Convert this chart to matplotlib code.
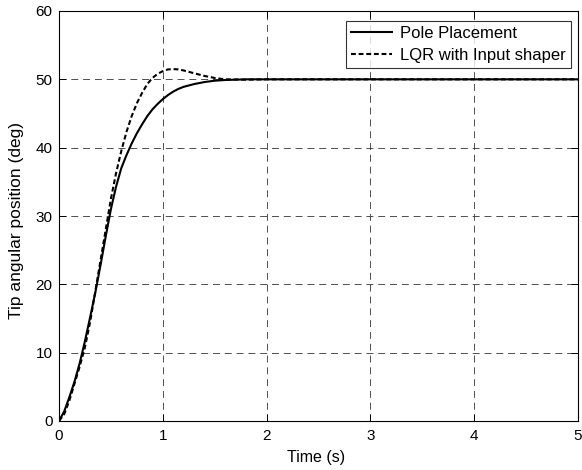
import matplotlib
matplotlib.use("Agg")
import matplotlib.pyplot as plt

plt.rcParams['font.family'] = ['Liberation Sans', 'DejaVu Sans']
plt.rcParams['lines.scale_dashes'] = False

t = [0, 0.05, 0.1, 0.15, 0.2, 0.25, 0.3, 0.35, 0.4, 0.45, 0.5, 0.55, 0.6, 0.65,
     0.7, 0.75, 0.8, 0.85, 0.9, 0.95, 1.0, 1.05, 1.1, 1.15, 1.2, 1.3, 1.4, 1.5,
     1.6, 1.8, 2.0, 2.5, 3.0, 4.0, 5.0]
pole = [0, 1.4, 3.5, 5.8, 8.5, 11.7, 15.2, 18.8, 22.8, 27.0, 31.0, 34.3, 37.0,
        38.9, 40.6, 42.1, 43.4, 44.6, 45.6, 46.4, 47.1, 47.7, 48.2, 48.6, 48.9,
        49.3, 49.6, 49.8, 49.9, 50, 50, 50, 50, 50, 50]
lqr = [0, 1.0, 3.0, 5.5, 8.0, 10.8, 14.5, 19, 23.5, 28, 32.5, 36.3, 39.5, 42.3,
       44.6, 46.5, 48.0, 49.3, 50.2, 50.8, 51.2, 51.45, 51.5, 51.45, 51.3, 50.9,
       50.5, 50.2, 50.0, 49.95, 50, 50, 50, 50, 50]

xticks = [0, 1, 2, 3, 4, 5]
yticks = [0, 10, 20, 30, 40, 50, 60]

fig = plt.figure(figsize=(5.82, 4.70), dpi=100)
ax = fig.add_axes([59/582, 49/470, 519/582, 410/470])

ax.plot(t, pole, color='black', lw=1.5, label='Pole Placement')
ax.plot(t, lqr, color='black', lw=1.5, linestyle=(0, (3.5, 2)), label='LQR with Input shaper')

ax.set_xlim(0, 5)
ax.set_ylim(0, 60)
ax.set_xticks(xticks)
ax.set_yticks(yticks)
ax.grid(True, color='#333333', lw=0.6, linestyle=(0, (5, 3.5)))
ax.tick_params(direction='in', top=True, right=True, labelsize=11, length=5, width=0.7)
ax.tick_params(axis='x', pad=5.5)
ax.tick_params(axis='y', pad=4.5)
for s in ax.spines.values():
    s.set_linewidth(0.8)
ax.set_xlabel('Time (s)', fontsize=11.5)
ax.set_ylabel('Tip angular position (deg)', fontsize=12.5)
ax.xaxis.set_label_coords(0.495, -0.0707)
ax.yaxis.set_label_coords(-0.068, 0.49)

leg = ax.legend(loc='upper right', bbox_to_anchor=(0.9865, 0.9756), fontsize=12,
                frameon=True, fancybox=False, borderaxespad=0.0,
                handlelength=2.5, handletextpad=0.48, labelspacing=0.4,
                borderpad=0.3)
leg.get_frame().set_edgecolor('black')
leg.get_frame().set_linewidth(0.8)

fig.savefig('out.png', dpi=100)
